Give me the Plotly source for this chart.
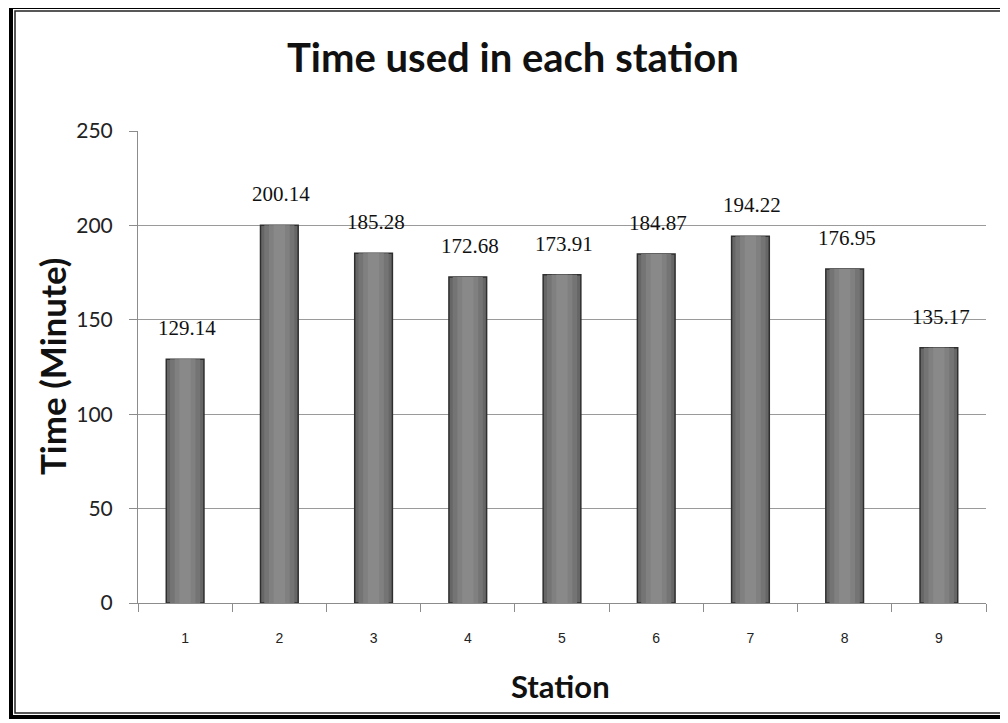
import plotly.graph_objects as go

stations = ["1", "2", "3", "4", "5", "6", "7", "8", "9"]
times = [129.14, 200.14, 185.28, 172.68, 173.91, 184.87, 194.22, 176.95, 135.17]
labels = ["129.14", "200.14", "185.28", "172.68", "173.91", "184.87", "194.22", "176.95", "135.17"]
y_ticks = [0, 50, 100, 150, 200, 250]

OFF = 8  # page body margin
W, H = 1000, 715
L, R, T, B = 130, 22, 123, 120
PW, PH = W - L - R, H - T - B


def px(x):
    return (x - OFF - L) / PW


def py(y):
    return 1 - (y - OFF - T) / PH


fig = go.Figure()
for w, c, lw in [(0.40, "#666666", 1.5), (0.32, "#747474", 0), (0.22, "#808080", 0), (0.12, "#898989", 0)]:
    fig.add_trace(go.Bar(x=stations, y=times, width=w,
                         marker=dict(color=c, line=dict(color="#2e2e2e", width=lw)),
                         hoverinfo="skip"))

annotations = []
for i, (v, lab) in enumerate(zip(times, labels)):
    annotations.append(dict(x=i, y=v, text=lab, showarrow=False, yshift=31, xshift=2,
                            font=dict(family="Liberation Serif, Times New Roman, serif", size=21, color="#111")))

annotations += [
    dict(xref="paper", yref="paper", x=px(513), y=py(57), text="<b>Time used in each station</b>",
         showarrow=False, xanchor="center", yanchor="middle",
         font=dict(family="Lato, Carlito, sans-serif", size=40, color="#111")),
    dict(xref="paper", yref="paper", x=px(52), y=py(367), text="<b>Time (Minute)</b>", textangle=-90,
         showarrow=False, xanchor="center", yanchor="middle",
         font=dict(family="Lato, Carlito, sans-serif", size=35, color="#111")),
    dict(xref="paper", yref="paper", x=px(560), y=py(686), text="<b>Station</b>",
         showarrow=False, xanchor="center", yanchor="middle",
         font=dict(family="Lato, Carlito, sans-serif", size=31, color="#111")),
]

shapes = [
    dict(type="rect", xref="paper", yref="paper", x0=px(11), x1=px(1030), y0=py(717), y1=py(7),
         line=dict(color="#000", width=4)),
    dict(type="rect", xref="paper", yref="paper", x0=px(15), x1=px(1026), y0=py(713), y1=py(11),
         line=dict(color="#222", width=1.5)),
]

fig.update_layout(
    width=W, height=H,
    margin=dict(l=L, r=R, t=T, b=B),
    paper_bgcolor="white", plot_bgcolor="white",
    barmode="overlay", showlegend=False,
    annotations=annotations, shapes=shapes,
    xaxis=dict(type="category", showgrid=False, showline=True, linecolor="#8c8c8c", linewidth=1,
               ticks="outside", tickson="boundaries", ticklen=8, tickcolor="#8c8c8c",
               tickfont=dict(family="Liberation Sans, Arial, sans-serif", size=14, color="#222"),
               ticklabelstandoff=22, range=[-0.5, 8.5]),
    yaxis=dict(range=[0, 250], tickvals=y_ticks, showgrid=True, gridcolor="#9a9a9a", gridwidth=1,
               showline=True, linecolor="#8c8c8c", linewidth=1, ticks="outside", ticklen=8,
               tickcolor="#8c8c8c", zeroline=False,
               tickfont=dict(family="Lato, Carlito, sans-serif", size=21, color="#222"),
               ticklabelstandoff=12),
)

fig.write_html("out.html")
